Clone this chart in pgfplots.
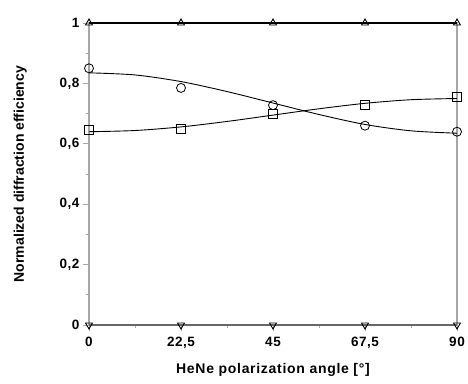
\documentclass[border=0pt]{standalone}
\usepackage{pgfplots}
\pgfplotsset{compat=1.18}
\usepackage{fontspec}
\setmainfont{Liberation Sans}
\begin{document}
\begin{tikzpicture}
\begin{axis}[
  name=ax,
  scale only axis,
  width=368pt, height=302pt,
  xmin=0, xmax=90, ymin=0, ymax=1,
  clip=false,
  axis line style={gray!70, line width=1.2pt},
  xtick={0,22.5,45,67.5,90},
  xticklabels={{0},{22,5},{45},{67,5},{90}},
  minor xtick={11.25,33.75,56.25,78.75},
  ytick={0,0.2,0.4,0.6,0.8,1},
  yticklabels={{0},{0,2},{0,4},{0,6},{0,8},{1}},
  minor ytick={0.1,0.3,0.5,0.7,0.9},
  tick align=outside,
  major tick length=6pt, minor tick length=3pt,
  tick style={gray!70, line width=0.8pt},
  xtick pos=bottom, ytick pos=left,
  tick label style={font=\fontsize{13.5}{15}\selectfont\bfseries\addfontfeature{LetterSpace=4}},
  /pgf/number format/assume math mode=true,
  xlabel={HeNe polarization angle [°]},
  ylabel={Normalized diffraction efficiency},
  xlabel style={font=\fontsize{14}{16}\selectfont\bfseries\addfontfeature{LetterSpace=5}, at={(axis description cs:0.5,-0.15)}, anchor=center},
  ylabel style={font=\fontsize{14}{16}\selectfont\bfseries, at={(axis description cs:-0.187,0.5)}, anchor=center, rotate=0},
  xticklabel style={yshift=-3pt},
]
% fitted curves
\addplot[black, line width=0.9pt, smooth, no marks] coordinates {
 (0,0.835) (11.25,0.828) (22.5,0.806) (33.75,0.773) (45,0.735) (56.25,0.697) (67.5,0.664) (78.75,0.643) (90,0.635)};
\addplot[black, line width=0.9pt, smooth, no marks] coordinates {
 (0,0.640) (11.25,0.644) (22.5,0.656) (33.75,0.674) (45,0.695) (56.25,0.716) (67.5,0.734) (78.75,0.746) (90,0.750)};
% top and bottom series
\addplot[black, line width=1.2pt, mark=triangle, mark size=4pt, mark options={fill=white, line width=0.9pt}] coordinates {
 (0,1) (22.5,1) (45,1) (67.5,1) (90,1)};
\addplot[gray!80!black, line width=1.2pt, mark=triangle, mark size=4pt, mark options={black, rotate=180, fill=white, line width=0.9pt}] coordinates {
 (0,0) (22.5,0) (45,0) (67.5,0) (90,0)};
% measured points
\addplot[only marks, mark=o, mark size=4.5pt, mark options={fill=white, black, line width=0.8pt}] coordinates {
 (0,0.85) (22.5,0.785) (45,0.728) (67.5,0.66) (90,0.64)};
\addplot[only marks, mark=square, mark size=4.5pt, mark options={fill=white, black, line width=0.8pt}] coordinates {
 (0,0.645) (22.5,0.65) (45,0.70) (67.5,0.728) (90,0.755)};
\end{axis}
\pgfresetboundingbox
\path ([xshift=-89pt,yshift=-58pt]ax.south west) rectangle ([xshift=11pt,yshift=23pt]ax.north east);
\end{tikzpicture}
\end{document}
